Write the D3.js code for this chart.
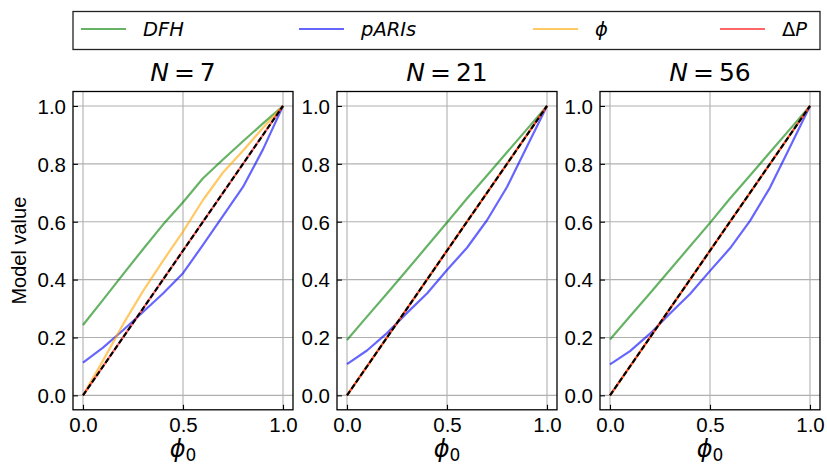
<!DOCTYPE html>
<html><head><meta charset="utf-8">
<script src="https://cdn.jsdelivr.net/npm/d3@7"></script>
<style>body{margin:0;background:#fff}</style>
</head><body>
<svg id="chart" width="827" height="467"></svg>
<script>
// ---- data ----
const phi0 = [0, 0.1, 0.2, 0.3, 0.4, 0.5, 0.6, 0.7, 0.8, 0.9, 1.0];
const panelN = ["7", "21", "56"];
const dfhN7    = [0.243, 0.330, 0.418, 0.505, 0.590, 0.667, 0.750, 0.815, 0.878, 0.940, 1.0];
const parisN7  = [0.113, 0.165, 0.225, 0.288, 0.352, 0.422, 0.520, 0.620, 0.720, 0.850, 1.0];
const phiN7    = [0.000, 0.120, 0.245, 0.360, 0.465, 0.566, 0.675, 0.770, 0.845, 0.925, 1.0];
const dpN7     = [0.0, 0.1, 0.2, 0.3, 0.4, 0.5, 0.6, 0.7, 0.8, 0.9, 1.0];
const dfhN21   = [0.191, 0.272, 0.352, 0.433, 0.515, 0.597, 0.680, 0.760, 0.840, 0.920, 1.0];
const parisN21 = [0.108, 0.155, 0.215, 0.285, 0.352, 0.433, 0.510, 0.605, 0.720, 0.860, 1.0];
const phiN21   = [0.0, 0.1, 0.2, 0.3, 0.4, 0.5, 0.6, 0.7, 0.8, 0.9, 1.0];
const dpN21    = [0.0, 0.1, 0.2, 0.3, 0.4, 0.5, 0.6, 0.7, 0.8, 0.9, 1.0];
const dfhN56   = [0.193, 0.273, 0.353, 0.434, 0.515, 0.596, 0.680, 0.760, 0.840, 0.920, 1.0];
const parisN56 = [0.107, 0.153, 0.213, 0.283, 0.350, 0.430, 0.508, 0.603, 0.718, 0.858, 1.0];
const phiN56   = [0.0, 0.1, 0.2, 0.3, 0.4, 0.5, 0.6, 0.7, 0.8, 0.9, 1.0];
const dpN56    = [0.0, 0.1, 0.2, 0.3, 0.4, 0.5, 0.6, 0.7, 0.8, 0.9, 1.0];
const diagX = [0, 1];
const diagY = [0, 1];
const xTicks = [0, 0.5, 1.0];
const yTicks = [0, 0.2, 0.4, 0.6, 0.8, 1.0];
const seriesNames = ["DFH", "pARIs", "phi", "dP"];
const seriesColors = ["green", "blue", "orange", "red"];

const panelData = [
  [dfhN7, parisN7, phiN7, dpN7],
  [dfhN21, parisN21, phiN21, dpN21],
  [dfhN56, parisN56, phiN56, dpN56]
];

// ---- layout ----
const svg = d3.select("#chart");
const panelLeft = [73, 337, 600];
const pw = 220, plotTop = 91.5, plotBottom = 409.8;
const tickFont = "'Liberation Sans', Arial, sans-serif";
const mathFont = "'DejaVu Sans', sans-serif";

panelData.forEach((series, pi) => {
  const L = panelLeft[pi];
  const x = d3.scaleLinear().domain([-0.05, 1.05]).range([L, L + pw]);
  const y = d3.scaleLinear().domain([-0.05, 1.05]).range([plotBottom, plotTop]);
  const g = svg.append("g");

  // grid
  g.append("g").selectAll("line").data(xTicks).join("line")
    .attr("x1", d => x(d)).attr("x2", d => x(d)).attr("y1", plotTop).attr("y2", plotBottom)
    .attr("stroke", "#b0b0b0").attr("stroke-width", 1.1);
  g.append("g").selectAll("line").data(yTicks).join("line")
    .attr("y1", d => y(d)).attr("y2", d => y(d)).attr("x1", L).attr("x2", L + pw)
    .attr("stroke", "#b0b0b0").attr("stroke-width", 1.1);

  // series lines
  const clip = "clip" + pi;
  svg.append("clipPath").attr("id", clip).append("rect")
    .attr("x", L).attr("y", plotTop).attr("width", pw).attr("height", plotBottom - plotTop);
  const line = d3.line().x(d => x(d[0])).y(d => y(d[1]));
  series.forEach((vals, si) => {
    g.append("path")
      .datum(phi0.map((p, i) => [p, vals[i]]))
      .attr("d", line).attr("fill", "none")
      .attr("stroke", seriesColors[si]).attr("stroke-opacity", 0.6)
      .attr("stroke-width", 2.2).attr("stroke-linejoin", "round")
      .attr("clip-path", `url(#${clip})`);
  });
  g.append("path")
    .datum(diagX.map((p, i) => [p, diagY[i]]))
    .attr("d", line).attr("fill", "none")
    .attr("stroke", "#000").attr("stroke-width", 2.1)
    .attr("stroke-dasharray", "5.5,2.4");

  // axes
  const xa = g.append("g").attr("transform", `translate(0,${plotBottom})`)
    .call(d3.axisBottom(x).tickValues(xTicks).tickFormat(d3.format(".1f")).tickSize(-5).tickPadding(8));
  const ya = g.append("g").attr("transform", `translate(${L},0)`)
    .call(d3.axisLeft(y).tickValues(yTicks).tickFormat(d3.format(".1f")).tickSize(-5).tickPadding(7));
  [xa, ya].forEach(a => {
    a.select(".domain").remove();
    a.selectAll(".tick line").attr("stroke", "#000").attr("stroke-width", 1.1);
    a.selectAll(".tick text").attr("font-family", tickFont).attr("font-size", 20.5).attr("fill", "#000");
  });
  ya.selectAll(".tick text").attr("dy", "0.36em");

  // frame
  g.append("rect").attr("x", L).attr("y", plotTop).attr("width", pw).attr("height", plotBottom - plotTop)
    .attr("fill", "none").attr("stroke", "#000").attr("stroke-width", 1.3);

  // title
  const cx = L + pw / 2;
  const t = g.append("text").attr("x", cx).attr("y", 80.5).attr("text-anchor", "middle")
    .attr("font-family", mathFont).attr("font-size", 25).attr("fill", "#000");
  t.append("tspan").attr("font-style", "italic").text("N");
  t.append("tspan").text("\u2009=\u2009" + panelN[pi]);

  // x label
  const xl = g.append("text").attr("x", cx).attr("y", 457).attr("text-anchor", "middle")
    .attr("font-family", mathFont).attr("font-size", 24).attr("fill", "#000");
  xl.append("tspan").attr("font-style", "italic").text("\u03D5");
  xl.append("tspan").attr("font-size", 17).attr("dy", 4).text("0");
});

// y label
svg.append("text").attr("transform", `translate(26,${(plotTop + plotBottom) / 2}) rotate(-90)`)
  .attr("text-anchor", "middle").attr("font-family", tickFont).attr("font-size", 20)
  .attr("fill", "#000").text("Model value");

// legend
const leg = svg.append("g");
leg.append("rect").attr("x", 73).attr("y", 11.5).attr("width", 747).attr("height", 38)
  .attr("fill", "#fff").attr("stroke", "#222").attr("stroke-width", 1.3);
const legX = [81, 299, 533, 720];
seriesNames.forEach((nm, i) => {
  leg.append("line").attr("x1", legX[i]).attr("x2", legX[i] + 45).attr("y1", 29).attr("y2", 29)
    .attr("stroke", seriesColors[i]).attr("stroke-opacity", 0.6).attr("stroke-width", 2.2);
  const tx = leg.append("text").attr("x", legX[i] + 62).attr("y", 36)
    .attr("font-family", mathFont).attr("font-size", 19.5).attr("fill", "#000");
  if (nm === "phi") tx.append("tspan").attr("font-style", "italic").text("\u03D5");
  else if (nm === "dP") { tx.append("tspan").text("\u0394"); tx.append("tspan").attr("font-style", "italic").text("P"); }
  else tx.append("tspan").attr("font-style", "italic").text(nm);
});
</script>
</body></html>
